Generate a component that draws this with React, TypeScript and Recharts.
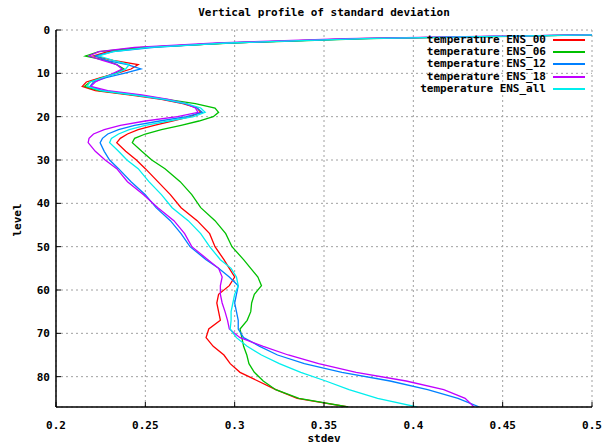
import React from "react";
import { LineChart, Line, XAxis, YAxis, CartesianGrid, Legend } from "recharts";

// ── Data ───────────────────────────────────────────────────────────────────

const levels = [
  1, 2, 3, 4, 5, 6, 7, 8, 9, 10, 11, 12, 13, 14, 15, 16, 17, 18, 19, 20, 21, 22, 23, 24, 25, 26,
  28, 30, 32, 35, 38, 41, 44, 47, 50, 53, 55, 57, 59, 61, 63, 65, 67, 69, 71, 73, 75, 77, 79, 81,
  83, 85, 87,
];

const ens00 = [
  0.518, 0.368, 0.296, 0.25, 0.229, 0.221, 0.232, 0.246, 0.242, 0.234, 0.225, 0.217, 0.2147, 0.222,
  0.242, 0.259, 0.271, 0.279, 0.281, 0.275, 0.265, 0.255, 0.246, 0.24, 0.236, 0.234, 0.239, 0.245,
  0.25, 0.257, 0.264, 0.27, 0.279, 0.286, 0.289, 0.294, 0.297, 0.3, 0.297, 0.291, 0.29, 0.291,
  0.292, 0.2855, 0.284, 0.288, 0.294, 0.2975, 0.303, 0.313, 0.323, 0.335, 0.3635,
];

const ens06 = [
  0.52, 0.375, 0.298, 0.248, 0.224, 0.2165, 0.228, 0.234, 0.238, 0.233, 0.226, 0.219, 0.216, 0.224,
  0.244, 0.262, 0.278, 0.289, 0.291, 0.288, 0.28, 0.27, 0.259, 0.25, 0.244, 0.2427, 0.248, 0.2536,
  0.261, 0.2695, 0.276, 0.281, 0.289, 0.295, 0.2985, 0.305, 0.309, 0.313, 0.315, 0.311, 0.3095,
  0.309, 0.307, 0.303, 0.304, 0.305, 0.3068, 0.308, 0.311, 0.316, 0.323, 0.336, 0.3635,
];

const ens12 = [
  0.516, 0.37, 0.294, 0.255, 0.232, 0.222, 0.228, 0.24, 0.2475, 0.238, 0.228, 0.221, 0.219, 0.226,
  0.245, 0.26, 0.272, 0.279, 0.282, 0.273, 0.258, 0.244, 0.235, 0.229, 0.226, 0.2247, 0.227, 0.23,
  0.235, 0.242, 0.25, 0.256, 0.264, 0.27, 0.275, 0.284, 0.291, 0.297, 0.302, 0.301, 0.3, 0.301,
  0.302, 0.302, 0.305, 0.314, 0.324, 0.339, 0.36, 0.387, 0.408, 0.425, 0.437,
];

const ens18 = [
  0.512, 0.362, 0.29, 0.244, 0.224, 0.2185, 0.226, 0.234, 0.237, 0.232, 0.227, 0.222, 0.2195, 0.229,
  0.248, 0.263, 0.273, 0.278, 0.2795, 0.268, 0.25, 0.236, 0.227, 0.221, 0.2185, 0.218, 0.222,
  0.2275, 0.234, 0.24, 0.249, 0.257, 0.266, 0.272, 0.276, 0.285, 0.291, 0.293, 0.292, 0.292, 0.293,
  0.2946, 0.296, 0.297, 0.303, 0.316, 0.33, 0.347, 0.368, 0.396, 0.417, 0.429, 0.434,
];

const ensAll = [
  0.515, 0.372, 0.296, 0.252, 0.232, 0.224, 0.232, 0.241, 0.239, 0.234, 0.226, 0.219, 0.2175, 0.225,
  0.244, 0.261, 0.273, 0.281, 0.2835, 0.277, 0.263, 0.25, 0.241, 0.235, 0.231, 0.23, 0.235, 0.2397,
  0.246, 0.252, 0.259, 0.265, 0.274, 0.281, 0.286, 0.292, 0.298, 0.301, 0.302, 0.3, 0.299, 0.298,
  0.298, 0.2975, 0.301, 0.307, 0.315, 0.325, 0.337, 0.351, 0.364, 0.38, 0.402,
];

const xTicks = [0.2, 0.25, 0.3, 0.35, 0.4, 0.45, 0.5];
const yTicks = [0, 10, 20, 30, 40, 50, 60, 70, 80];

const series = [
  { key: "e00", name: "temperature ENS_00", color: "#ff0000" },
  { key: "e06", name: "temperature ENS_06", color: "#00c000" },
  { key: "e12", name: "temperature ENS_12", color: "#0080ff" },
  { key: "e18", name: "temperature ENS_18", color: "#c000ff" },
  { key: "eall", name: "temperature ENS_all", color: "#00eeee" },
];

const rows = levels.map((level, i) => ({
  level,
  e00: ens00[i],
  e06: ens06[i],
  e12: ens12[i],
  e18: ens18[i],
  eall: ensAll[i],
}));

// ── Styles ─────────────────────────────────────────────────────────────────

const font = "'DejaVu Sans Mono', monospace";
const tickStyle = { fill: "#000", fontSize: 11, fontWeight: 700, fontFamily: font };
const labelStyle = {
  position: "absolute" as const,
  fontFamily: font,
  fontSize: 11,
  fontWeight: 700,
  lineHeight: "11px",
};

function LegendBox() {
  return (
    <div style={{ fontFamily: font, fontSize: 11, fontWeight: 700, color: "#000" }}>
      {series.map((s) => (
        <div
          key={s.key}
          style={{ display: "flex", alignItems: "center", justifyContent: "flex-end", height: 12.2, lineHeight: "12px" }}
        >
          <span style={{ whiteSpace: "pre" }}>{s.name}</span>
          <span style={{ display: "inline-block", width: 32, height: 2, marginLeft: 7, background: s.color }} />
        </div>
      ))}
    </div>
  );
}

export default function App() {
  return (
    <div style={{ position: "absolute", left: 0, top: 0, width: 603, height: 445, background: "#fff" }}>
      <div style={{ ...labelStyle, left: 0, width: 648, top: 7, textAlign: "center" }}>
        Vertical profile of standard deviation
      </div>
      <div style={{ ...labelStyle, left: 0, width: 648, top: 433, textAlign: "center" }}>stdev</div>
      <div style={{ ...labelStyle, left: 17, top: 220, transform: "translate(-50%, -50%) rotate(-90deg)" }}>
        level
      </div>
      <LineChart
        width={603}
        height={445}
        data={rows}
        layout="vertical"
        margin={{ top: 30, right: 11, bottom: 8, left: 10 }}
      >
        <CartesianGrid stroke="#a0a0a0" strokeDasharray="2 3" />
        <XAxis
          type="number"
          dataKey="e00"
          domain={[0.2, 0.5]}
          ticks={xTicks}
          allowDataOverflow
          height={30}
          tick={tickStyle}
          tickFormatter={(v: number) => String(v)}
          tickSize={-5}
          tickMargin={19}
          tickLine={{ stroke: "#000" }}
          axisLine={{ stroke: "#000", strokeWidth: 1.5 }}
        />
        <XAxis
          xAxisId="top"
          orientation="top"
          type="number"
          domain={[0.2, 0.5]}
          ticks={xTicks}
          allowDataOverflow
          height={0}
          tick={false}
          tickSize={-5}
          tickLine={{ stroke: "#000" }}
          axisLine={false}
        />
        <YAxis
          type="number"
          dataKey="level"
          domain={[0, 87]}
          ticks={yTicks}
          allowDataOverflow
          width={46}
          tick={tickStyle}
          tickSize={-5}
          tickMargin={11}
          tickLine={{ stroke: "#000" }}
          axisLine={{ stroke: "#000", strokeWidth: 1.5 }}
        />
        <YAxis
          yAxisId="right"
          orientation="right"
          type="number"
          domain={[0, 87]}
          ticks={yTicks}
          width={0}
          tick={false}
          tickSize={-5}
          tickLine={{ stroke: "#000" }}
          axisLine={false}
        />
        {series.map((s) => (
          <Line
            key={s.key}
            dataKey={s.key}
            name={s.name}
            stroke={s.color}
            strokeWidth={1.3}
            dot={false}
            type="linear"
            isAnimationActive={false}
          />
        ))}
        <Legend
          layout="vertical"
          align="center"
          verticalAlign="middle"
          content={() => <LegendBox />}
          wrapperStyle={{ top: 34, left: 382, width: 203, bottom: "auto", right: "auto" }}
        />
      </LineChart>
    </div>
  );
}
